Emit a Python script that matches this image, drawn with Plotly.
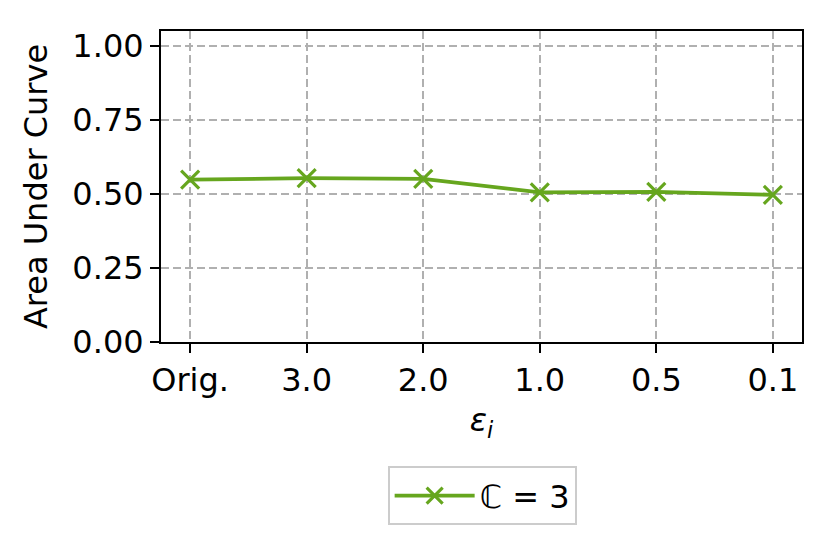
import plotly.graph_objects as go

categories = ["Orig.", "3.0", "2.0", "1.0", "0.5", "0.1"]
auc_values = [0.548, 0.553, 0.551, 0.505, 0.507, 0.497]
y_ticks = [0.0, 0.25, 0.5, 0.75, 1.0]
y_tick_labels = ["0.00", "0.25", "0.50", "0.75", "1.00"]
series_name = "ℂ = 3"

xpos = list(range(len(categories)))
green = "#66a61e"
font = "DejaVu Sans, Arial, sans-serif"
fs = 32

fig = go.Figure()
fig.add_trace(go.Scatter(
    x=xpos, y=auc_values, mode="lines+markers", name=series_name,
    line=dict(color=green, width=3.8),
    marker=dict(symbol="x-thin", size=18, line=dict(color=green, width=3.2), color=green),
))

axis_common = dict(
    showline=True, linecolor="black", linewidth=2, mirror=True,
    ticks="outside", ticklen=9, tickwidth=2, tickcolor="black",
    showgrid=True, gridcolor="#b0b0b0", gridwidth=1.5, griddash="8px,4px",
    zeroline=False, tickfont=dict(family=font, size=fs, color="black"),
)

fig.update_layout(
    width=824, height=542,
    margin=dict(l=153, r=30, t=23, b=208),
    paper_bgcolor="white", plot_bgcolor="white",
    font=dict(family=font, size=fs, color="black"),
    xaxis=dict(range=[-0.25, 5.25], tickmode="array", tickvals=xpos, ticktext=categories,
               title=dict(text="<i>ε<sub>i</sub></i>", font=dict(family=font, size=fs), standoff=10),
               **axis_common),
    yaxis=dict(range=[0, 1.05], tickmode="array", tickvals=y_ticks, ticktext=y_tick_labels,
               title=dict(text="Area Under Curve", font=dict(family=font, size=fs), standoff=15),
               **axis_common),
    showlegend=True,
    legend=dict(x=0.501, y=-0.40, xanchor="center", yanchor="top", orientation="h",
                bordercolor="#cccccc", borderwidth=2, bgcolor="white",
                font=dict(family=font, size=fs), itemwidth=80),
)

fig.write_html("out.html")
